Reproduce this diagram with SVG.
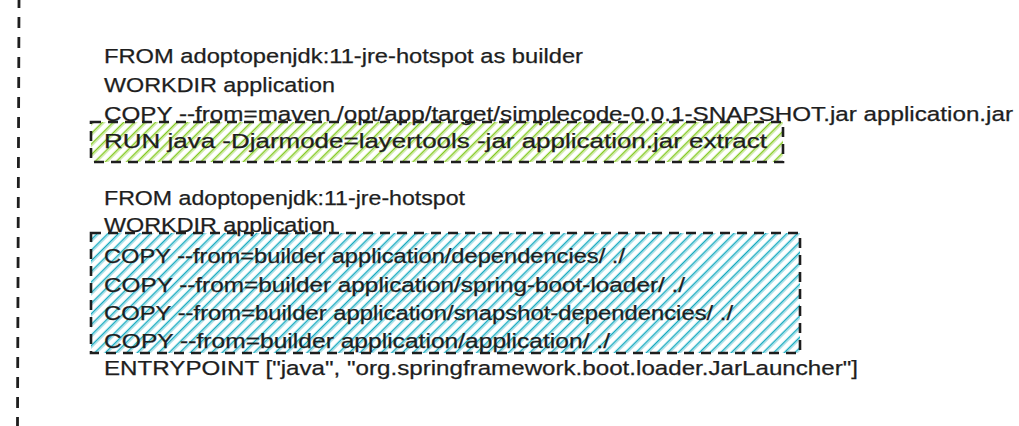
<svg xmlns="http://www.w3.org/2000/svg" width="1019" height="426" viewBox="0 0 1019 426">
  <style>
    .code { font-family: "Liberation Sans", "DejaVu Sans", sans-serif; font-size: 20.5px; fill: #1e1e1e; stroke: #1e1e1e; stroke-width: 0.25; }
    .border { fill: none; stroke: #1e1e1e; stroke-width: 2.6; stroke-dasharray: 10 7; stroke-linecap: butt; }
    .divider { fill: none; stroke: #1e1e1e; stroke-width: 2.8; stroke-dasharray: 11 9; stroke-dashoffset: 3; }
  </style>
  <defs>
    <pattern id="hatchGreen" patternUnits="userSpaceOnUse" width="7.5" height="7.5" patternTransform="rotate(45)">
      <line x1="1.5" y1="0" x2="1.5" y2="7.5" stroke="#82c91e" stroke-width="1.5"/>
      <line x1="3.2" y1="0" x2="3.2" y2="7.5" stroke="#82c91e" stroke-width="0.7" stroke-opacity="0.5"/>
    </pattern>
    <pattern id="hatchBlue" patternUnits="userSpaceOnUse" width="7.5" height="7.5" patternTransform="rotate(45)">
      <line x1="1.5" y1="0" x2="1.5" y2="7.5" stroke="#15aabf" stroke-width="1.5"/>
      <line x1="3.2" y1="0" x2="3.2" y2="7.5" stroke="#15aabf" stroke-width="0.7" stroke-opacity="0.5"/>
    </pattern>
  </defs>
  <rect width="1019" height="426" fill="#ffffff"/>

  <g id="divider">
    <path class="divider" d="M19 0 L17.5 426"/>
  </g>

  <g id="builder-layer">
    <rect x="91" y="122" width="692" height="40" fill="url(#hatchGreen)"/>
    <rect class="border" x="91" y="122" width="692" height="40"/>
  </g>

  <g id="runtime-layer">
    <rect x="91" y="233" width="709" height="120" fill="url(#hatchBlue)"/>
    <rect class="border" x="91" y="233" width="709" height="120"/>
  </g>

  <g id="dockerfile-text">
    <text class="code" x="104" y="63" textLength="479" lengthAdjust="spacingAndGlyphs">FROM adoptopenjdk:11-jre-hotspot as builder</text>
    <text class="code" x="104" y="92" textLength="231" lengthAdjust="spacingAndGlyphs">WORKDIR application</text>
    <text class="code" x="104" y="121" textLength="909" lengthAdjust="spacingAndGlyphs">COPY --from=maven /opt/app/target/simplecode-0.0.1-SNAPSHOT.jar application.jar</text>
    <text class="code" x="104" y="148" textLength="663" lengthAdjust="spacingAndGlyphs">RUN java -Djarmode=layertools -jar application.jar extract</text>
    <text class="code" x="104" y="205" textLength="361" lengthAdjust="spacingAndGlyphs">FROM adoptopenjdk:11-jre-hotspot</text>
    <text class="code" x="104" y="232" textLength="231" lengthAdjust="spacingAndGlyphs">WORKDIR application</text>
    <text class="code" x="104" y="263" textLength="521" lengthAdjust="spacingAndGlyphs">COPY --from=builder application/dependencies/ ./</text>
    <text class="code" x="104" y="292" textLength="581" lengthAdjust="spacingAndGlyphs">COPY --from=builder application/spring-boot-loader/ ./</text>
    <text class="code" x="104" y="320" textLength="629" lengthAdjust="spacingAndGlyphs">COPY --from=builder application/snapshot-dependencies/ ./</text>
    <text class="code" x="104" y="348" textLength="506" lengthAdjust="spacingAndGlyphs">COPY --from=builder application/application/ ./</text>
    <text class="code" x="104" y="375" textLength="754" lengthAdjust="spacingAndGlyphs">ENTRYPOINT ["java", "org.springframework.boot.loader.JarLauncher"]</text>
  </g>
</svg>
